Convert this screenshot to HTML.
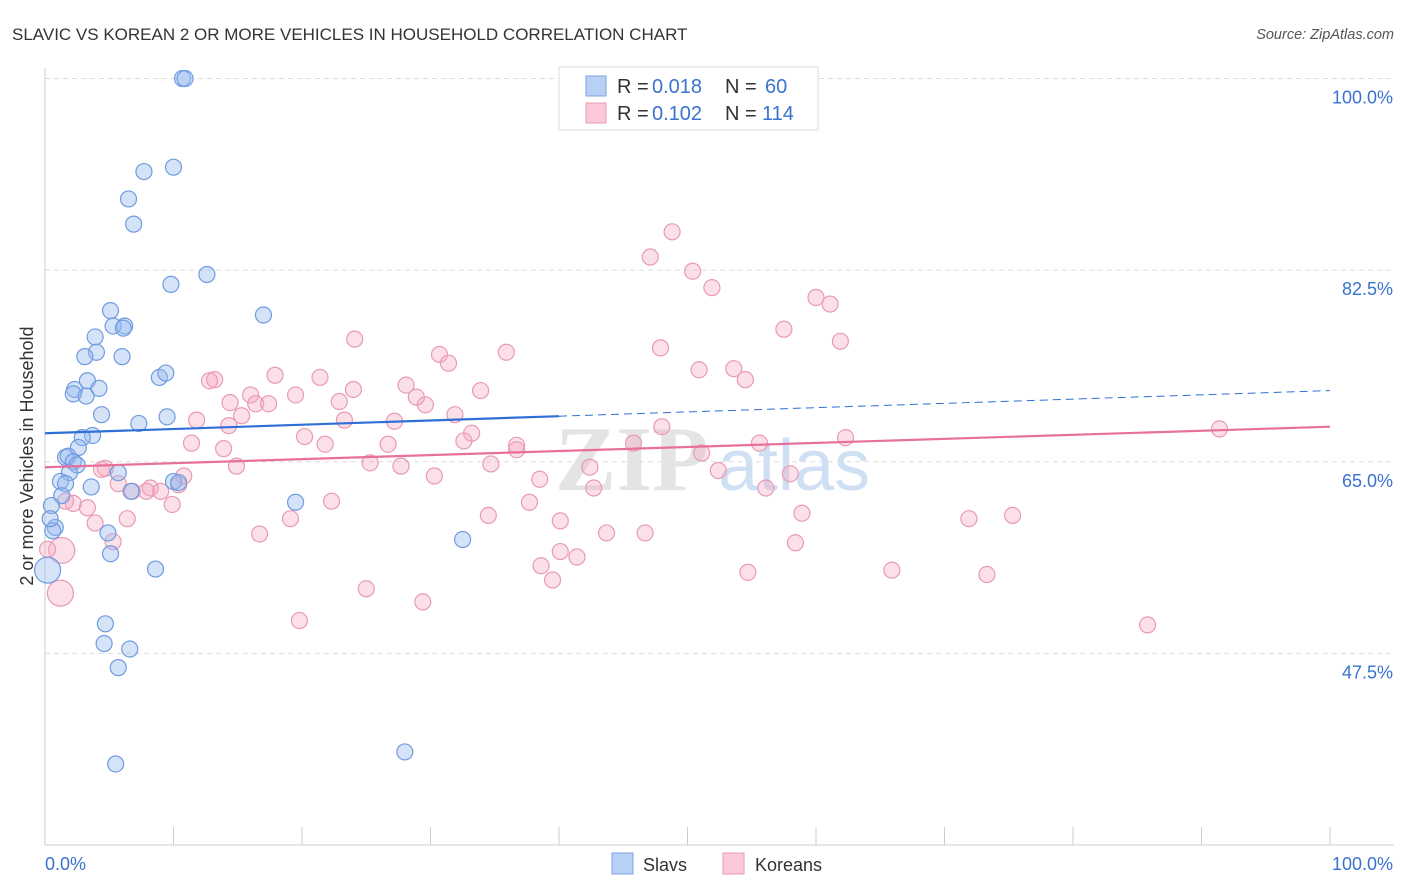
<!DOCTYPE html>
<html><head><meta charset="utf-8"><style>
body{margin:0;background:#fff;font-family:"Liberation Sans",sans-serif;}
svg{display:block}
</style></head><body>
<svg id="chart" width="1406" height="892" viewBox="0 0 1406 892">
<text x="12" y="40" font-size="17" fill="#333">SLAVIC VS KOREAN 2 OR MORE VEHICLES IN HOUSEHOLD CORRELATION CHART</text>
<text x="1394" y="39" font-size="14.5" fill="#555" font-style="italic" text-anchor="end">Source: ZipAtlas.com</text>
<text x="555" y="490" font-size="92" fill="#e4e4e4" font-weight="bold" font-family="Liberation Serif,serif">ZIP</text>
<text x="718" y="490" font-size="72" fill="#cfe0f5">atlas</text>
<g id="grid"></g><g id="axes"></g><g id="marks"></g><g id="trends"></g>
<text transform="translate(33,456) rotate(-90)" font-size="18" fill="#333" text-anchor="middle">2 or more Vehicles in Household</text>
<g font-size="20">
<rect x="559" y="67" width="259" height="63" fill="#fff" stroke="#ddd"/>
<rect x="586" y="76" width="20" height="20" fill="#b8d0f4" stroke="#7aa3e5"/>
<rect x="586" y="103" width="20" height="20" fill="#fbc9d8" stroke="#e89ab5"/>
<text x="617" y="93" fill="#333">R =</text>
<text x="652" y="93" fill="#3a72d0">0.018</text>
<text x="725" y="93" fill="#333">N =</text>
<text x="765" y="93" fill="#3a72d0">60</text>
<text x="617" y="120" fill="#333">R =</text>
<text x="652" y="120" fill="#3a72d0">0.102</text>
<text x="725" y="120" fill="#333">N =</text>
<text x="762" y="120" fill="#3a72d0">114</text>
</g>
<g>
<rect x="612" y="853" width="21" height="21" fill="#b8d0f4" stroke="#7aa3e5"/>
<text x="643" y="871" font-size="18" fill="#333">Slavs</text>
<rect x="723" y="853" width="21" height="21" fill="#fbc9d8" stroke="#e89ab5"/>
<text x="755" y="871" font-size="18" fill="#333">Koreans</text>
</g>
</svg>
<script>
const yTicks=[47.5,65.0,82.5,100.0];
const yTickLabels=["47.5%","65.0%","82.5%","100.0%"];
const xTickLabels=["0.0%","100.0%"];
const slavX=[10.7,10.9,7.7,10.0,6.5,6.9,9.8,12.6,17.0,5.1,5.3,6.2,6.1,3.9,4.0,3.1,6.0,8.9,9.4,3.3,2.3,4.2,2.2,3.2,4.4,7.3,9.5,3.7,2.9,2.6,1.6,1.8,2.2,2.5,1.9,5.7,1.2,1.6,3.6,1.3,6.7,10.0,10.4,19.5,0.5,0.8,0.6,4.9,5.1,8.6,32.5,4.7,4.6,6.6,5.7,28.0,5.5,0.2,0.4];
const slavY=[100.0,100.0,91.5,91.9,89.0,86.7,81.2,82.1,78.4,78.8,77.4,77.4,77.2,76.4,75.0,74.6,74.6,72.7,73.1,72.4,71.6,71.7,71.2,71.0,69.3,68.5,69.1,67.4,67.2,66.3,65.4,65.5,65.0,64.7,64.0,64.0,63.2,63.0,62.7,61.9,62.3,63.2,63.1,61.3,61.0,59.0,58.7,58.5,56.6,55.2,57.9,50.2,48.4,47.9,46.2,38.5,37.4,55.1,59.8];
const slavBig=[57];
const korX=[48.8,47.1,50.4,51.9,60.0,61.1,57.5,61.9,24.1,47.9,35.9,30.7,31.4,53.6,50.9,54.5,17.9,21.4,13.2,12.8,28.1,24.0,33.9,16.0,19.5,28.9,22.9,16.4,29.6,17.4,15.3,11.8,14.3,23.3,27.2,31.9,48.0,62.3,91.4,11.4,20.2,21.8,13.9,33.2,32.6,36.7,26.7,45.8,51.1,36.7,55.6,14.9,4.7,4.4,27.7,25.3,34.7,42.4,52.4,58.0,30.3,38.5,10.8,10.4,8.2,6.8,5.7,7.9,9.0,1.6,2.2,9.9,22.3,37.7,42.7,56.1,3.3,3.9,6.4,19.1,34.5,40.1,43.7,46.7,16.7,5.3,58.9,71.9,75.3,58.4,1.3,0.2,40.1,41.4,38.6,39.5,54.7,65.9,73.3,25.0,29.4,19.8,85.8,1.2,14.4];
const korY=[86.0,83.7,82.4,80.9,80.0,79.4,77.1,76.0,76.2,75.4,75.0,74.8,74.0,73.5,73.4,72.5,72.9,72.7,72.5,72.4,72.0,71.6,71.5,71.1,71.1,70.9,70.5,70.3,70.2,70.3,69.2,68.8,68.3,68.8,68.7,69.3,68.2,67.2,68.0,66.7,67.3,66.6,66.2,67.6,66.9,66.5,66.6,66.7,65.8,66.1,66.7,64.6,64.4,64.3,64.6,64.9,64.8,64.5,64.2,63.9,63.7,63.4,63.7,62.9,62.6,62.3,63.0,62.3,62.3,61.4,61.2,61.1,61.4,61.3,62.6,62.6,60.8,59.4,59.8,59.8,60.1,59.6,58.5,58.5,58.4,57.7,60.3,59.8,60.1,57.6,56.9,57.0,56.8,56.3,55.5,54.2,54.9,55.1,54.7,53.4,52.2,50.5,50.1,53.0,70.4];
const korBig=[90,103];
const slavTrend=[67.6,71.5];
const korTrend=[64.5,68.2];
const slavSolidEnd=40;

const NS="http://www.w3.org/2000/svg";
const X0=45,X1=1330,YB=845,YT=78.5;
const sx=v=>X0+(X1-X0)*v/100;
const sy=v=>YB-(YB-YT)*(v-30)/70;
function mk(tag,attrs,parent){const e=document.createElementNS(NS,tag);for(const k in attrs)e.setAttribute(k,attrs[k]);document.getElementById(parent).appendChild(e);return e;}

yTicks.forEach((t,i)=>{
  const g=mk('line',{x1:X0,x2:1394,y1:sy(t),y2:sy(t),stroke:'#ddd','stroke-dasharray':'5,4'},'grid');
  
  
  const l=mk('text',{x:1393,y:sy(t)+25,'font-size':18,fill:'#3a72d0','text-anchor':'end'},'axes');
  l.textContent=yTickLabels[i];
  
  
});
const ax=mk('line',{x1:X0,x2:X0,y1:68,y2:YB,stroke:'#ccc'},'axes');


const bx=mk('line',{x1:X0,x2:1394,y1:YB,y2:YB,stroke:'#ccc'},'axes');


for(let i=0;i<=10;i++){
  const t=mk('line',{x1:sx(i*10),x2:sx(i*10),y1:YB-18,y2:YB,stroke:'#ccc'},'axes');
  
  
}
xTickLabels.forEach((s,i)=>{
  const t=mk('text',{x:i?1393:45,y:870,'font-size':18,fill:'#3a72d0','text-anchor':i?'end':'start'},'axes');
  t.textContent=s;
  
  
});
function pts(xs,ys,big,fill,stroke,name){
  xs.forEach((x,i)=>{
    const c=mk('circle',{cx:sx(x),cy:sy(ys[i]),r:big.includes(i)?13:8,fill:fill,stroke:stroke,'stroke-width':1.2},'marks');
    
    
  });
}
pts(korX,korY,korBig,'rgba(245,165,190,0.35)','#e89ab5','korean-point');
pts(slavX,slavY,slavBig,'rgba(150,185,240,0.4)','#6f9be0','slav-point');
const sl=(v)=>slavTrend[0]+(slavTrend[1]-slavTrend[0])*v/100;
const b1=mk('line',{x1:sx(0),y1:sy(slavTrend[0]),x2:sx(slavSolidEnd),y2:sy(sl(slavSolidEnd)),stroke:'#2f6fd6','stroke-width':2.2},'trends');


const b2=mk('line',{x1:sx(slavSolidEnd),y1:sy(sl(slavSolidEnd)),x2:sx(100),y2:sy(slavTrend[1]),stroke:'#2f6fd6','stroke-width':1,'stroke-dasharray':'8,5'},'trends');


const p1=mk('line',{x1:sx(0),y1:sy(korTrend[0]),x2:sx(100),y2:sy(korTrend[1]),stroke:'#e8709a','stroke-width':2.2},'trends');


</script>
</body></html>
